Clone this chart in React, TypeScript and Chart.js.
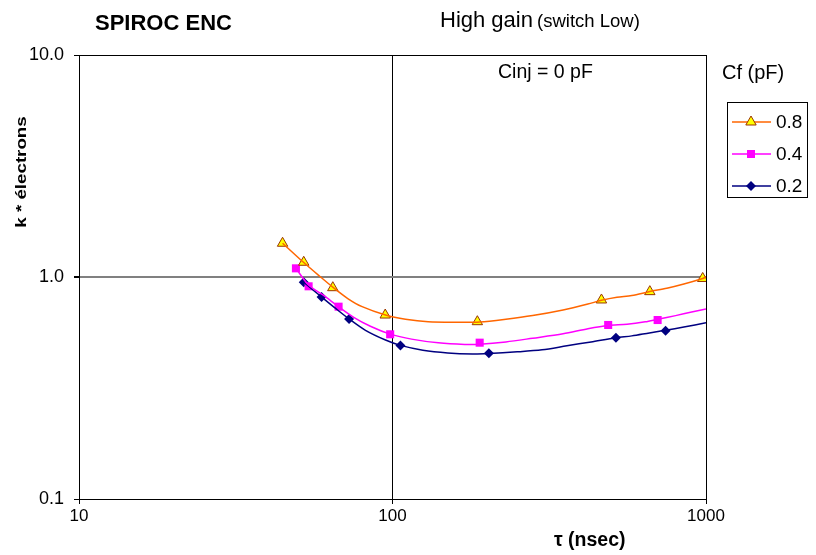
import React, { useEffect, useRef } from "react";
import { Chart, registerables } from "chart.js";

Chart.register(...registerables);

// ---------- data ----------
const xTicks = [10, 100, 1000];
const yTicks = [0.1, 1, 10];

// Cf = 0.8 pF
const tau08Line = [44.6, 52, 58, 64.5, 72, 80, 95, 110, 130, 160, 190, 230, 280, 350, 420, 464, 520, 580, 662, 750, 850, 976, 1000];
const k08Line = [1.42, 1.165, 1.02, 0.9, 0.8, 0.735, 0.674, 0.645, 0.628, 0.625, 0.627, 0.645, 0.67, 0.71, 0.755, 0.785, 0.81, 0.825, 0.86, 0.89, 0.93, 0.985, 1.0];
const tau08Pts = [44.6, 52.1, 64.5, 94.8, 186.5, 464, 662, 976];
const k08Pts = [1.419, 1.165, 0.895, 0.674, 0.629, 0.788, 0.859, 0.985];

// Cf = 0.4 pF
const tau04Line = [49.2, 54, 60, 67.3, 75, 85, 98.3, 115, 140, 170, 190, 230, 280, 350, 420, 487, 560, 640, 701, 800, 900, 1000];
const k04Line = [1.094, 0.92, 0.83, 0.735, 0.66, 0.6, 0.553, 0.525, 0.505, 0.497, 0.498, 0.51, 0.53, 0.555, 0.585, 0.605, 0.612, 0.628, 0.645, 0.67, 0.695, 0.717];
const tau04Pts = [49.2, 54.0, 67.3, 98.3, 189.7, 487.5, 701];
const k04Pts = [1.094, 0.908, 0.735, 0.552, 0.506, 0.608, 0.64];

// Cf = 0.2 pF
const tau02Line = [52.1, 59.4, 66, 72.7, 82, 95, 106, 125, 150, 180, 203, 250, 300, 360, 430, 516, 580, 660, 743, 850, 1000];
const k02Line = [0.947, 0.813, 0.72, 0.647, 0.575, 0.52, 0.492, 0.468, 0.455, 0.45, 0.452, 0.46, 0.47, 0.49, 0.51, 0.533, 0.543, 0.56, 0.575, 0.595, 0.622];
const tau02Pts = [52.1, 59.4, 72.7, 106, 203, 516, 743];
const k02Pts = [0.947, 0.813, 0.647, 0.492, 0.453, 0.533, 0.573];

const seriesLabels = ["0.8", "0.4", "0.2"];

const toXY = (xs: number[], ys: number[]) => xs.map((x, i) => ({ x, y: ys[i] }));

const FONT = "'Liberation Sans', Arial, sans-serif";

const COL08 = "#FF6600";
const COL04 = "#FF00FF";
const COL02 = "#000080";

function drawMarker(ctx: CanvasRenderingContext2D, kind: string, x: number, y: number) {
  ctx.save();
  ctx.beginPath();
  if (kind === "tri") {
    const r = 6;
    ctx.moveTo(x, y - r);
    ctx.lineTo(x + r * 0.866, y + r * 0.5);
    ctx.lineTo(x - r * 0.866, y + r * 0.5);
    ctx.closePath();
    ctx.fillStyle = "#FFFF00";
    ctx.strokeStyle = "#993300";
    ctx.lineWidth = 1;
    ctx.fill();
    ctx.stroke();
  } else if (kind === "sq") {
    ctx.rect(x - 4, y - 4, 8, 8);
    ctx.fillStyle = COL04;
    ctx.fill();
  } else {
    const r = 5;
    ctx.moveTo(x, y - r);
    ctx.lineTo(x + r, y);
    ctx.lineTo(x, y + r);
    ctx.lineTo(x - r, y);
    ctx.closePath();
    ctx.fillStyle = COL02;
    ctx.fill();
  }
  ctx.restore();
}

const textPlugin = {
  id: "textPlugin",
  afterDraw(chart: any) {
    const ctx: CanvasRenderingContext2D = chart.ctx;
    ctx.save();
    ctx.fillStyle = "#000";
    ctx.textBaseline = "alphabetic";
    ctx.textAlign = "left";

    ctx.font = `bold 22px ${FONT}`;
    ctx.fillText("SPIROC ENC", 95, 30);

    ctx.font = `22px ${FONT}`;
    ctx.fillText("High gain", 440, 27);
    const w = ctx.measureText("High gain ").width;
    ctx.font = `18.5px ${FONT}`;
    ctx.fillText("(switch Low)", 440 + w - 2, 27);

    ctx.textBaseline = "middle";
    ctx.font = `19.5px ${FONT}`;
    ctx.fillText("Cinj = 0 pF", 498, 73);
    ctx.font = `20px ${FONT}`;
    ctx.fillText("Cf (pF)", 722, 73);

    ctx.font = `bold 19.5px ${FONT}`;
    ctx.fillText("τ (nsec)", 554, 541);

    ctx.save();
    ctx.translate(22, 172);
    ctx.rotate(-Math.PI / 2);
    ctx.scale(1.25, 1);
    ctx.textAlign = "center";
    ctx.font = `bold 15px ${FONT}`;
    ctx.fillText("k * électrons", 0, 0);
    ctx.restore();

    // legend
    ctx.strokeStyle = "#000";
    ctx.lineWidth = 1;
    ctx.strokeRect(727.5, 102.5, 80, 95);
    const entries = [
      { c: COL08, m: "tri", y: 122 },
      { c: COL04, m: "sq", y: 154 },
      { c: COL02, m: "dia", y: 186 },
    ];
    entries.forEach((e, i) => {
      ctx.beginPath();
      ctx.strokeStyle = e.c;
      ctx.lineWidth = 1.5;
      ctx.moveTo(732, e.y);
      ctx.lineTo(771, e.y);
      ctx.stroke();
      drawMarker(ctx, e.m, 751, e.y);
      ctx.fillStyle = "#000";
      ctx.font = `19px ${FONT}`;
      ctx.textBaseline = "middle";
      ctx.fillText(seriesLabels[i], 776, e.y + 1);
    });
    ctx.restore();
  },
};

export default function App() {
  const ref = useRef<HTMLCanvasElement | null>(null);

  useEffect(() => {
    document.body.style.margin = "0";
    const canvas = ref.current!;
    const lineDs = (xs: number[], ys: number[], color: string) => ({
      data: toXY(xs, ys),
      borderColor: color,
      borderWidth: 1.5,
      pointRadius: 0,
      showLine: true,
      tension: 0.3,
      fill: false,
    });
    const chart = new Chart(canvas, {
      type: "scatter",
      data: {
        datasets: [
          lineDs(tau08Line, k08Line, COL08),
          lineDs(tau04Line, k04Line, COL04),
          lineDs(tau02Line, k02Line, COL02),
          {
            label: seriesLabels[0],
            data: toXY(tau08Pts, k08Pts),
            showLine: false,
            pointStyle: "triangle",
            pointRadius: 6,
            pointBackgroundColor: "#FFFF00",
            pointBorderColor: "#993300",
            pointBorderWidth: 1,
          },
          {
            label: seriesLabels[1],
            data: toXY(tau04Pts, k04Pts),
            showLine: false,
            pointStyle: "rect",
            pointRadius: 5.7,
            pointBackgroundColor: COL04,
            pointBorderColor: COL04,
            pointBorderWidth: 0,
          },
          {
            label: seriesLabels[2],
            data: toXY(tau02Pts, k02Pts),
            showLine: false,
            pointStyle: "rectRot",
            pointRadius: 5,
            pointBackgroundColor: COL02,
            pointBorderColor: COL02,
            pointBorderWidth: 0,
          },
        ],
      } as any,
      options: {
        responsive: false,
        animation: false,
        layout: { padding: { left: 0, top: 55, right: 110, bottom: 0 } },
        plugins: { legend: { display: false }, tooltip: { enabled: false }, title: { display: false } },
        scales: {
          x: {
            type: "logarithmic",
            min: 10,
            max: 1000,
            afterBuildTicks: (s: any) => {
              s.ticks = xTicks.map((v) => ({ value: v }));
            },
            afterFit: (s: any) => {
              s.height = 56;
            },
            ticks: {
              autoSkip: false,
              maxRotation: 0,
              color: "#000",
              font: { family: FONT, size: 17 },
              padding: 2,
              callback: (v: any) => String(v),
            },
            grid: { color: "#000", lineWidth: 1, tickLength: 5, tickColor: "#000" },
            border: { display: true, color: "#000", width: 1 },
          },
          y: {
            type: "logarithmic",
            min: 0.1,
            max: 10,
            afterBuildTicks: (s: any) => {
              s.ticks = yTicks.map((v) => ({ value: v }));
            },
            afterFit: (s: any) => {
              s.width = 79;
            },
            ticks: {
              autoSkip: false,
              color: "#000",
              font: { family: FONT, size: 18 },
              padding: 10,
              callback: (v: any) => Number(v).toFixed(1),
            },
            grid: {
              color: (c: any) => (c.tick && c.tick.value === 1 ? "#808080" : "#000"),
              lineWidth: (c: any) => (c.tick && c.tick.value === 1 ? 2 : 1),
              tickLength: 5,
              tickColor: "#000",
            },
            border: { display: true, color: "#000", width: 1 },
          },
        },
      } as any,
      plugins: [textPlugin],
    });
    return () => chart.destroy();
  }, []);

  return (
    <div style={{ position: "absolute", left: 0, top: 0, width: 816, height: 555, background: "#fff" }}>
      <canvas ref={ref} width={816} height={555} />
    </div>
  );
}
